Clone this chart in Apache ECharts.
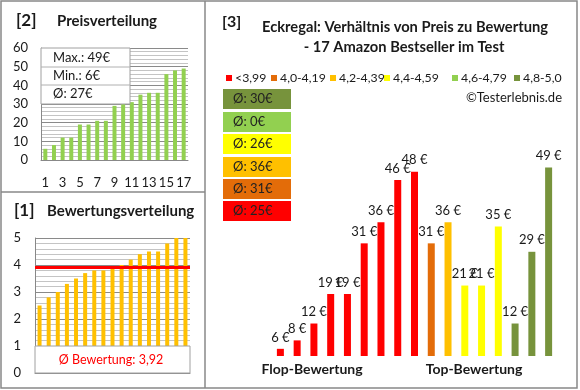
<!DOCTYPE html>
<html><head><meta charset="utf-8">
<script src="https://cdn.jsdelivr.net/npm/echarts@6/dist/echarts.min.js"></script>
<style>html,body{margin:0;padding:0;background:#fff}#c{width:580px;height:390px}</style>
</head><body><div id="c"></div>
<script>
const FONT = 'Lato';
// [2] Preisverteilung
const priceCats = ['1','2','3','4','5','6','7','8','9','10','11','12','13','14','15','16','17'];
const sortedPrices = [6,8,12,12,19,19,21,21,29,30,31,35,36,36,46,48,49];
const priceStats = ['Max.: 49€','Min.: 6€','Ø: 27€'];
// [1] Bewertungsverteilung
const ratings = [2.5,2.8,3.0,3.3,3.5,3.7,3.8,3.8,3.9,4.0,4.2,4.4,4.5,4.5,4.8,5.0,5.0];
const avgRating = 3.92;
const avgRatingLabel = 'Ø Bewertung: 3,92';
// [3] Preis vs Bewertung
const rightPrices = [6,8,12,19,19,31,36,46,48,31,36,21,21,35,12,29,49];
const groupNames = ['<3,99','4,0-4,19','4,2-4,39','4,4-4,59','4,6-4,79','4,8-5,0'];
const groupColors = ['#FF0000','#E36C09','#FFC000','#FFFF00','#92D050','#77933C'];
const groupThresholds = [4.0,4.2,4.4,4.6,4.8];
const groupAvgs = ['30','0','26','36','31','25'];           // top to bottom
const groupAvgColorIdx = [5,4,3,2,1,0];

function groupOf(r){ let g=0; for(const t of groupThresholds){ if(r>=t-1e-9) g++; } return g; }

const chart = echarts.init(document.getElementById('c'), null, {renderer:'canvas'});
const gray = '#888888';
const txt = (x,y,text,opt) => Object.assign({type:'text', x, y, z:100, style:Object.assign({text, fontFamily:FONT, fontSize:13, fill:'#1a1a1a', textVerticalAlign:'middle'}, opt||{})});

const graphic = [];
// frame
graphic.push({type:'rect', z:0, shape:{x:1,y:1,width:576,height:387}, style:{fill:'none', stroke:gray, lineWidth:1.5}});
graphic.push({type:'line', z:0, shape:{x1:205,y1:1,x2:205,y2:388}, style:{stroke:gray, lineWidth:1.5}});
graphic.push({type:'line', z:0, shape:{x1:1,y1:192,x2:205,y2:192}, style:{stroke:gray, lineWidth:1.5}});
// titles
graphic.push(txt(16,21,'[2]',{fontSize:17,fontWeight:'bold'}));
graphic.push(txt(57,21,'Preisverteilung',{fontSize:15,fontWeight:'bold'}));
graphic.push(txt(14,211,'[1]',{fontSize:17,fontWeight:'bold'}));
graphic.push(txt(47,211,'Bewertungsverteilung',{fontSize:15,fontWeight:'bold'}));
graphic.push(txt(222,22,'[3]',{fontSize:16,fontWeight:'bold'}));
graphic.push(txt(405,27,'Eckregal: Verhältnis von Preis zu Bewertung',{fontSize:14.7,fontWeight:'bold',textAlign:'center'}));
graphic.push(txt(404,47,'- 17 Amazon Bestseller im Test',{fontSize:14.7,fontWeight:'bold',textAlign:'center'}));
// price stats box
graphic.push({type:'rect', z:90, shape:{x:41,y:48,width:89,height:56}, style:{fill:'#fff', stroke:'#a0a0a0', lineWidth:1}});
graphic.push({type:'line', z:91, shape:{x1:41,y1:67,x2:130,y2:67}, style:{stroke:'#b0b0b0'}});
graphic.push({type:'line', z:91, shape:{x1:41,y1:85,x2:130,y2:85}, style:{stroke:'#b0b0b0'}});
priceStats.forEach((s,i)=>graphic.push(txt(53,58+i*18,s,{fontSize:13})));
// rating avg box
graphic.push({type:'rect', z:90, shape:{x:35,y:346,width:155,height:27}, style:{fill:'#fff', stroke:'#a0a0a0', lineWidth:1}});
graphic.push(txt(111,360,avgRatingLabel,{fontSize:12.5,fill:'#FF0000',textAlign:'center'}));
// legend row
const legX = [226,271,330,384,452,514];
groupNames.forEach((n,i)=>{
  graphic.push({type:'rect', z:90, shape:{x:legX[i],y:75,width:6,height:6}, style:{fill:groupColors[i]}});
  graphic.push(txt(legX[i]+9,78,n,{fontSize:12.3}));
});
graphic.push(txt(562,98,'©Testerlebnis.de',{fontSize:13,textAlign:'right'}));
// group average boxes
const boxY = [89,112,134,157,179,201];
groupAvgs.forEach((a,i)=>{
  graphic.push({type:'rect', z:90, shape:{x:223,y:boxY[i],width:68,height:20}, style:{fill:groupColors[groupAvgColorIdx[i]]}});
  graphic.push(txt(233,boxY[i]+10,'Ø: '+a+'€',{fontSize:13,fill:'#222'}));
});
graphic.push(txt(312,369,'Flop-Bewertung',{fontSize:14,fontWeight:'bold',textAlign:'center'}));
graphic.push(txt(474,369,'Top-Bewertung',{fontSize:14,fontWeight:'bold',textAlign:'center'}));

const labelStyle = {fontFamily:FONT, fontSize:13, color:'#1a1a1a'};

chart.setOption({
  animation:false,
  textStyle:{fontFamily:FONT},
  grid:[
    {left:41, top:48, width:147, height:112},
    {left:35, top:238, width:155, height:135},
    {left:272, right:23, top:121, bottom:34}
  ],
  xAxis:[
    {gridIndex:0, type:'category', data:priceCats, axisTick:{show:false},
     axisLine:{lineStyle:{color:gray}}, axisLabel:Object.assign({interval:1, margin:16}, labelStyle)},
    {gridIndex:1, type:'category', data:priceCats, axisTick:{show:false}, axisLabel:{show:false},
     axisLine:{lineStyle:{color:gray}}},
    {gridIndex:2, type:'category', data:priceCats, show:false}
  ],
  yAxis:[
    {gridIndex:0, type:'value', min:0, max:60, interval:10,
     axisLine:{show:true, lineStyle:{color:gray}}, axisTick:{show:false},
     axisLabel:Object.assign({margin:13}, labelStyle),
     splitLine:{lineStyle:{color:'#8a8a8a'}},
     minorTick:{show:false, splitNumber:5}, minorSplitLine:{show:true, lineStyle:{color:'#c4c4c4'}}},
    {gridIndex:1, type:'value', min:0, max:5, interval:1,
     axisLine:{show:true, lineStyle:{color:gray}}, axisTick:{show:false},
     axisLabel:Object.assign({margin:14}, labelStyle),
     splitLine:{lineStyle:{color:'#8a8a8a'}},
     minorTick:{show:false, splitNumber:5}, minorSplitLine:{show:true, lineStyle:{color:'#c4c4c4'}}},
    {gridIndex:2, type:'value', min:4.3, max:60, show:false}
  ],
  series:[
    {type:'bar', xAxisIndex:0, yAxisIndex:0, data:sortedPrices, barWidth:4, itemStyle:{color:'#92D050'}},
    {type:'bar', xAxisIndex:1, yAxisIndex:1, data:ratings, barWidth:4, itemStyle:{color:'#FFC000'},
     markLine:{symbol:'none', silent:true, label:{show:false}, lineStyle:{color:'#FF0000', width:3, type:'solid'},
       data:[{yAxis:avgRating}]}},
    {type:'bar', xAxisIndex:2, yAxisIndex:2, barWidth:7,
     data:rightPrices.map((v,i)=>({value:v, itemStyle:{color:groupColors[groupOf(ratings[i])]}})),
     label:{show:true, position:'top', distance:5, formatter:'{c} €', fontFamily:FONT, fontSize:13, color:'#1a1a1a'}}
  ],
  graphic: graphic
});
</script></body></html>
